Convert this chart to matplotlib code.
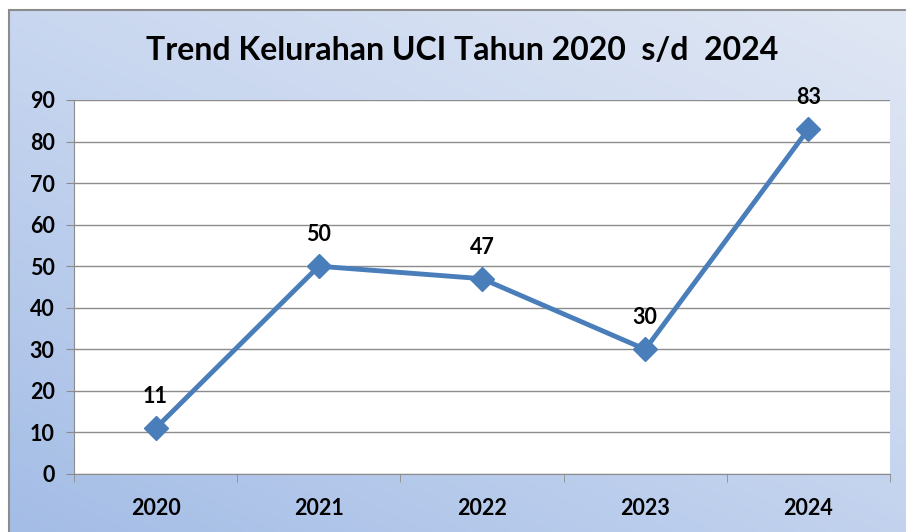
import numpy as np
import matplotlib.pyplot as plt
from matplotlib.colors import LinearSegmentedColormap
from matplotlib.patches import Rectangle

# --- data ---
years = ['2020', '2021', '2022', '2023', '2024']
uci_count = [11, 50, 47, 30, 83]
y_ticks = [0, 10, 20, 30, 40, 50, 60, 70, 80, 90]

plt.rcParams['font.family'] = ['Lato', 'DejaVu Sans']

W, H = 906, 532
fig = plt.figure(figsize=(W / 100, H / 100), dpi=100)
fig.patch.set_facecolor('white')

# --- background gradient (chart area, dark bottom-left -> light top-right) ---
bg = fig.add_axes([9 / W, 0, 1 - 9 / W, 1 - 10 / H], zorder=0)
gx, gy = np.meshgrid(np.linspace(0, 1, 300), np.linspace(0, 1, 200))
grad = (gx * 0.45 + gy * 0.55)
cmap = LinearSegmentedColormap.from_list('bg', ['#a4bde6', '#c6d5ef', '#e0e7f4'])
bg.imshow(grad, cmap=cmap, origin='lower', aspect='auto', extent=[0, 1, 0, 1])
bg.set_xlim(0, 1)
bg.set_ylim(0, 1)
bg.axis('off')
fig.add_artist(Rectangle((9 / W, -0.01), 1, 1 - 10 / H + 0.01, transform=fig.transFigure,
                         fill=False, edgecolor='#8c8c8c', linewidth=1.5, zorder=1))

# --- plot area ---
ax = fig.add_axes([74 / W, 58 / H, (890 - 74) / W, (474 - 100) / H], zorder=2)
ax.set_facecolor('white')
x = np.arange(len(years))
ax.plot(x, uci_count, color='#4a7ebb', linewidth=3.5, marker='D', markersize=12,
        markeredgecolor='#4a7ebb', zorder=3, clip_on=False)
for xi, v in zip(x, uci_count):
    ax.annotate(str(v), (xi, v), xytext=(0, 15), textcoords='offset points',
                ha='center', va='bottom', fontsize=15.5, fontweight='bold', color='black')

ax.set_xlim(-0.5, len(years) - 0.5)
ax.set_ylim(0, 90)
ax.set_yticks(y_ticks)
ax.set_xticks(x)
ax.set_xticklabels(years)
ax.set_xticks(np.arange(-0.5, len(years)), minor=True)
ax.yaxis.grid(True, color='#8c8c8c', linewidth=1)
ax.set_axisbelow(True)
ax.tick_params(axis='x', which='major', length=0, pad=17, labelsize=15.5)
ax.tick_params(axis='x', which='minor', length=6, color='#8c8c8c', direction='out')
ax.tick_params(axis='y', length=6, color='#8c8c8c', pad=8, labelsize=15.5)
for lbl in ax.get_xticklabels() + ax.get_yticklabels():
    lbl.set_fontweight('bold')
for side in ['top', 'right']:
    ax.spines[side].set_visible(False)
for side in ['left', 'bottom']:
    ax.spines[side].set_color('#8c8c8c')

fig.text(462 / W, 1 - 51 / H, 'Trend Kelurahan UCI Tahun 2020  s/d  2024',
         ha='center', va='center', fontsize=23, fontweight='bold', color='black')

fig.savefig('out.png', dpi=100)
